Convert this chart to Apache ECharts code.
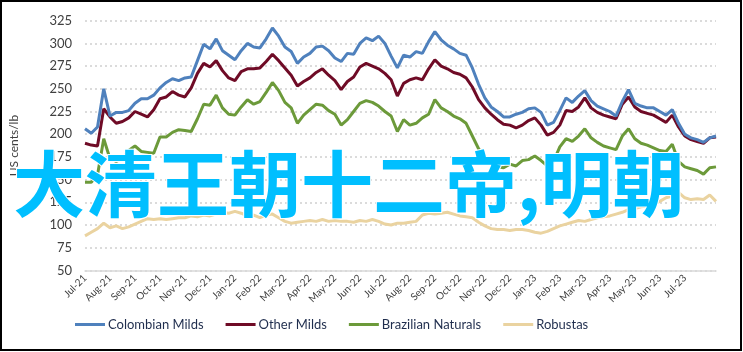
<!DOCTYPE html>
<html>
<head>
<meta charset="utf-8">
<script src="https://cdn.jsdelivr.net/npm/echarts@6/dist/echarts.min.js"></script>
<style>
  html, body { margin: 0; padding: 0; background: #fff; }
  .wrap { position: relative; width: 743px; height: 352px; }
  #main { width: 743px; height: 352px; }
  .frame {
    position: absolute; left: 0; top: 0; width: 742px; height: 351px;
    border: 2px solid #000; box-sizing: border-box; pointer-events: none;
  }
</style>
</head>
<body>
<div class="wrap">
  <div id="main"></div>
  <div class="frame"></div>
</div>
<script>
// month tick labels (one per month, Jul-21 .. Jul-23)
const monthLabels = [
  "Jul-21", "Aug-21", "Sep-21", "Oct-21", "Nov-21", "Dec-21",
  "Jan-22", "Feb-22", "Mar-22", "Apr-22", "May-22", "Jun-22",
  "Jul-22", "Aug-22", "Sep-22", "Oct-22", "Nov-22", "Dec-22",
  "Jan-23", "Feb-23", "Mar-23", "Apr-23", "May-23", "Jun-23", "Jul-23"
];
// samples are roughly weekly: 4 per month
const step = 0.25;

const seriesNames = ["Colombian Milds", "Other Milds", "Brazilian Naturals", "Robustas"];

// US cents/lb
const colombianMilds = [
  206, 201, 208, 250, 220, 224, 224, 226, 234, 239, 239, 243, 251, 257, 261, 259, 262, 263, 281, 299,
  294, 305, 292, 287, 282, 292, 300, 296, 295, 305, 317, 308, 296, 291, 278, 285, 289, 296, 297, 292,
  284, 280, 289, 288, 300, 306, 303, 308, 300, 286, 273, 287, 285, 291, 289, 302, 313, 304, 298, 294,
  289, 287, 273, 255, 240, 230, 225, 219, 219, 222, 224, 228, 229, 224, 210, 213, 226, 240, 235, 242,
  248, 237, 231, 228, 225, 220, 236, 249, 234, 231, 229, 229, 225, 221, 227, 212, 200, 196, 194, 191,
  196, 198
];
const otherMilds = [
  190, 188, 187, 228, 219, 212, 214, 218, 225, 222, 219, 227, 239, 241, 247, 243, 241, 251, 267, 278,
  274, 281, 270, 262, 259, 269, 272, 272, 273, 280, 288, 281, 273, 265, 253, 258, 262, 268, 272, 265,
  259, 249, 258, 263, 274, 278, 275, 272, 267, 260, 242, 256, 260, 262, 260, 272, 282, 275, 272, 268,
  266, 262, 252, 238, 229, 222, 216, 211, 210, 207, 210, 215, 218, 210, 199, 202, 210, 226, 225, 230,
  240, 229, 224, 221, 219, 217, 233, 241, 230, 225, 223, 221, 217, 213, 221, 208, 198, 194, 192, 190,
  196, 197
];
const brazilianNaturals = [
  147, 147, 155, 195, 173, 170, 173, 182, 187, 181, 180, 179, 197, 197, 202, 205, 204, 203, 217, 233,
  232, 243, 229, 222, 221, 230, 238, 233, 236, 246, 257, 248, 235, 229, 212, 221, 227, 233, 232, 226,
  222, 210, 216, 225, 234, 237, 235, 231, 225, 220, 203, 216, 210, 212, 218, 222, 238, 229, 225, 220,
  217, 212, 198, 184, 175, 171, 164, 163, 167, 165, 171, 172, 176, 171, 165, 170, 186, 195, 192, 198,
  206, 196, 191, 187, 185, 183, 198, 206, 195, 190, 188, 185, 182, 181, 189, 170, 164, 162, 160, 156,
  163, 164
];
const robustas = [
  88, 92, 96, 102, 97, 99, 96, 98, 101, 104, 107, 106, 107, 106, 107, 108, 108, 110, 109, 111,
  110, 112, 114, 113, 115, 113, 110, 111, 108, 111, 112, 108, 104, 102, 103, 104, 105, 104, 106, 104,
  105, 104, 104, 103, 105, 104, 106, 104, 101, 100, 102, 102, 103, 104, 111, 113, 112, 113, 114, 112,
  110, 109, 108, 103, 99, 96, 95, 95, 94, 95, 95, 94, 92, 91, 93, 96, 99, 101, 103, 105,
  104, 106, 108, 109, 110, 112, 114, 117, 118, 120, 121, 123, 126, 130, 132, 136, 130, 128, 129, 128,
  133, 126
];

const colors = ["#4f81bd", "#6f0b26", "#6c9a3a", "#ead3a0"];
const overlayText = "大清王朝十二帝,明朝";

function toPoints(values) {
  return values.map((v, i) => [i * step, v]);
}

const chart = echarts.init(document.getElementById("main"));
const lineSeries = [colombianMilds, otherMilds, brazilianNaturals, robustas].map((values, idx) => {
  return {
    name: seriesNames[idx],
    type: "line",
    showSymbol: false,
    symbol: "none",
    z: 10 - idx,
    lineStyle: { width: 3, color: colors[idx] },
    itemStyle: { color: colors[idx] },
    data: toPoints(values)
  };
});

const option = {
  animation: false,
  color: colors,
  textStyle: { fontFamily: "Lato" },
  grid: { left: 80, right: 27, top: 20.7, bottom: 81.6 },
  xAxis: {
    type: "value",
    min: 0,
    max: (robustas.length - 1) * step,
    interval: 1,
    splitLine: { show: false },
    axisTick: { show: false },
    axisLine: { show: true, lineStyle: { color: "#d9d9d9", width: 1.5 } },
    axisLabel: {
      rotate: 45,
      fontSize: 10,
      color: "#404040",
      margin: 6,
      showMaxLabel: false,
      formatter: function(v) {
        return monthLabels[v] || "";
      }
    }
  },
  yAxis: {
    type: "value",
    min: 50,
    max: 325,
    interval: 25,
    name: "US cents/lb",
    nameLocation: "middle",
    nameGap: 65,
    nameTextStyle: { fontSize: 12, color: "#404040" },
    axisLine: { show: false },
    axisTick: { show: false },
    axisLabel: { fontSize: 13, color: "#404040", margin: 13 },
    splitLine: {
      lineStyle: { type: [2, 3], color: "#cfcfcf", width: 1.5 }
    }
  },
  legend: {
    left: 70,
    top: 313,
    itemWidth: 30,
    itemHeight: 3,
    itemGap: 22,
    icon: "rect",
    textStyle: { fontSize: 13, color: "#1f2d4d", padding: [0, 0, 0, -2] },
    data: seriesNames
  },
  graphic: [
    {
      type: "text",
      x: 13,
      y: 184,
      z: 100,
      style: {
        text: overlayText,
        font: 'bold 72px "Noto Sans CJK SC"',
        fill: "#00bfff",
        stroke: "#ffffff",
        lineWidth: 2,
        verticalAlign: "middle"
      }
    }
  ],
  series: lineSeries
};

chart.setOption(option);
</script>
</body>
</html>
